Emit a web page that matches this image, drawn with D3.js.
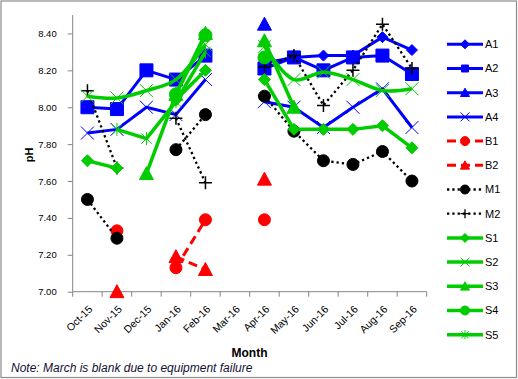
<!DOCTYPE html>
<html>
<head>
<meta charset="utf-8">
<style>
    body { margin: 0; background: white; }
    svg { display: block; font-family: 'Liberation Sans', Arial, sans-serif; }
    .axis path, .axis line { stroke: #868686; }
    .axis text { fill: #000; font-size: 9.5px; }
</style>
</head>
<body>
<svg width="518" height="379"></svg>
<script src="https://d3js.org/d3.v7.min.js"></script>
<script>
    // months on the x axis
    let months = ["Oct-15", "Nov-15", "Dec-15", "Jan-16", "Feb-16", "Mar-16",
        "Apr-16", "May-16", "Jun-16", "Jul-16", "Aug-16", "Sep-16"];
    let yTicks = [7.0, 7.2, 7.4, 7.6, 7.8, 8.0, 8.2, 8.4];

    // pH readings per site (null = no reading)
    let A1 = [null, null, null, null, null, null, 8.24, 8.27, 8.28, 8.28, 8.38, 8.31];
    let A2 = [8.00, 7.99, 8.20, 8.15, 8.28, null, 8.21, 8.27, 8.20, 8.27, 8.28, 8.18];
    let A3 = [null, null, null, null, null, null, 8.45, null, null, null, null, null];
    let A4 = [7.86, 7.88, 8.00, 7.96, 8.15, null, 8.03, 8.00, 7.89, 8.00, 8.10, 7.89];
    let B1 = [null, 7.33, null, 7.13, 7.39, null, 7.39, null, null, null, null, null];
    let B2 = [null, 7.00, null, 7.19, 7.12, null, 7.61, null, null, null, null, null];
    let M1 = [7.50, 7.29, null, 7.77, 7.96, null, 8.06, 7.87, 7.71, 7.69, 7.76, 7.60];
    let M2 = [8.09, 7.67, null, 7.94, 7.59, null, 8.22, 8.28, 8.01, 8.20, 8.45, 8.21];
    let S1 = [7.71, 7.67, null, 8.04, 8.20, null, 8.15, 7.88, 7.88, 7.88, 7.90, 7.78];
    let S2 = [8.06, 8.05, 8.09, 8.15, 8.34, null, 8.33, 8.15, 8.19, 8.15, 8.09, 8.10];
    let S3 = [null, null, 7.64, 8.07, 8.40, null, 8.36, 8.00, null, null, null, null];
    let S4 = [null, null, null, 8.07, 8.39, null, 8.27, null, null, null, null, null];
    let S5 = [null, 7.88, 7.83, 8.03, 8.30, null, null, null, null, null, null, null];

    let blue = "#0000ff", red = "#ff0000", green = "#00cc00", black = "#000000";

    let series = [
        {name: "A1", values: A1, color: blue, width: 3, dash: null, marker: "diamond", mSize: 5.5},
        {name: "A2", values: A2, color: blue, width: 3, dash: null, marker: "square", mSize: 6.5},
        {name: "A3", values: A3, color: blue, width: 3, dash: null, marker: "triangle", mSize: 7},
        {name: "A4", values: A4, color: blue, width: 3, dash: null, marker: "x", mSize: 6.5},
        {name: "B1", values: B1, color: red, width: 3, dash: "9,5", marker: "circle", mSize: 6},
        {name: "B2", values: B2, color: red, width: 3, dash: "9,5", marker: "triangle", mSize: 7},
        {name: "M1", values: M1, color: black, width: 2.3, dash: "2.3,3", marker: "circle", mSize: 6},
        {name: "M2", values: M2, color: black, width: 2.3, dash: "2.3,3", marker: "plus", mSize: 6.5},
        {name: "S1", values: S1, color: green, width: 3.5, dash: null, marker: "diamond", mSize: 6},
        {name: "S2", values: S2, color: green, width: 3.5, dash: null, marker: "x", mSize: 6.5, smooth: true},
        {name: "S3", values: S3, color: green, width: 3.5, dash: null, marker: "triangle", mSize: 7},
        {name: "S4", values: S4, color: green, width: 3.5, dash: null, marker: "circle", mSize: 6.5},
        {name: "S5", values: S5, color: green, width: 3.5, dash: null, marker: "star", mSize: 6.5}
    ];

    let svg = d3.select("svg");

    // outer chart border
    svg.append("rect")
        .attr("x", 1).attr("y", 1)
        .attr("width", 515.5).attr("height", 376.5)
        .attr("fill", "white")
        .attr("stroke", "#8c8c8c")
        .attr("stroke-width", 1.2);

    let x = d3.scaleBand().domain(months).range([72.7, 426.7]).padding(0);
    let y = d3.scaleLinear().domain([7, 8.5]).range([291.7, 15]);

    // y axis
    let yAxis = svg.append("g")
        .attr("class", "axis")
        .attr("transform", "translate(72.7,0)")
        .call(d3.axisLeft(y).tickValues(yTicks).tickFormat(d3.format(".2f")).tickSizeOuter(0).tickSize(5).tickPadding(11));
    yAxis.select(".domain").attr("d", "M0," + y(8.5) + "V" + y(7));

    // x axis, ticks on category boundaries
    let xAxis = svg.append("g")
        .attr("class", "axis")
        .attr("transform", "translate(0," + y(7) + ")");
    xAxis.append("path")
        .attr("d", "M" + x.range()[0] + ",0H" + x.range()[1])
        .attr("stroke", "#868686");
    let bounds = months.map(m => x(m)).concat([x.range()[1]]);
    xAxis.selectAll("line.tk")
        .data(bounds)
        .join("line")
        .attr("class", "tk")
        .attr("x1", d => d).attr("x2", d => d)
        .attr("y1", 0).attr("y2", 5);
    xAxis.selectAll("text")
        .data(months)
        .join("text")
        .attr("transform", d => "translate(" + (x(d) + x.bandwidth() / 2 + 3) + ",15.5) rotate(-45)")
        .attr("text-anchor", "end")
        .attr("dy", "0.35em")
        .style("font-size", "10.5px")
        .text(d => d);

    // series: line then markers, drawn in order
    function markerPath(type, r) {
        if (type === "diamond") return "M0," + (-r) + "L" + r + ",0L0," + r + "L" + (-r) + ",0Z";
        if (type === "square") return "M" + (-r) + "," + (-r) + "h" + (2 * r) + "v" + (2 * r) + "h" + (-2 * r) + "Z";
        if (type === "triangle") return "M0," + (-r) + "L" + r + "," + (r * 0.85) + "L" + (-r) + "," + (r * 0.85) + "Z";
        if (type === "circle") return "M" + (-r) + ",0A" + r + "," + r + " 0 1,0 " + r + ",0A" + r + "," + r + " 0 1,0 " + (-r) + ",0Z";
        if (type === "x") return "M" + (-r) + "," + (-r) + "L" + r + "," + r + "M" + r + "," + (-r) + "L" + (-r) + "," + r;
        if (type === "plus") return "M" + (-r) + ",0H" + r + "M0," + (-r) + "V" + r;
        if (type === "star") {
            let k = r * 0.8;
            return "M" + (-k) + "," + (-k) + "L" + k + "," + k + "M" + k + "," + (-k) + "L" + (-k) + "," + k + "M0," + (-r) + "V" + r;
        }
    }
    function isOpen(type) { return type === "x" || type === "plus" || type === "star"; }

    let cx = m => x(m) + x.bandwidth() / 2;

    series.forEach(s => {
        let pts = months.map((m, i) => ({m: m, v: s.values[i]}));
        let line = d3.line()
            .defined(d => d.v != null)
            .x(d => cx(d.m))
            .y(d => y(d.v))
            .curve(s.smooth ? d3.curveCatmullRom : d3.curveLinear);
        let g = svg.append("g");
        g.append("path")
            .attr("d", line(pts))
            .attr("fill", "none")
            .attr("stroke", s.color)
            .attr("stroke-width", s.width)
            .attr("stroke-dasharray", s.dash)
            .attr("stroke-linejoin", "round");
        g.selectAll("path.mk")
            .data(pts.filter(d => d.v != null))
            .join("path")
            .attr("class", "mk")
            .attr("transform", d => "translate(" + cx(d.m) + "," + y(d.v) + ")")
            .attr("d", markerPath(s.marker, s.mSize))
            .attr("fill", isOpen(s.marker) ? "none" : s.color)
            .attr("stroke", s.color)
            .attr("stroke-width", s.marker === "plus" ? 1.5 : 1);
    });

    // legend
    let legend = svg.append("g").attr("transform", "translate(447,44.3)");
    let item = legend.selectAll("g")
        .data(series)
        .join("g")
        .attr("transform", (d, i) => "translate(0," + (i * 24.2) + ")");
    item.append("line")
        .attr("x1", 0).attr("x2", 36)
        .attr("stroke", d => d.color)
        .attr("stroke-width", d => d.width)
        .attr("stroke-dasharray", d => d.dash);
    item.append("path")
        .attr("transform", "translate(18,0)")
        .attr("d", d => markerPath(d.marker, d.marker === "square" ? 3.5 : 4.5))
        .attr("fill", d => isOpen(d.marker) ? "none" : d.color)
        .attr("stroke", d => d.color)
        .attr("stroke-width", d => d.marker === "plus" ? 1.3 : 1);
    item.append("text")
        .attr("x", 38)
        .attr("dy", "0.35em")
        .attr("font-size", "11px")
        .text(d => d.name);

    // axis titles and note
    svg.append("text")
        .attr("transform", "translate(33,155) rotate(-90)")
        .attr("text-anchor", "middle")
        .attr("font-size", "11px")
        .attr("font-weight", "bold")
        .text("pH");
    svg.append("text")
        .attr("x", 249.5).attr("y", 357)
        .attr("text-anchor", "middle")
        .attr("font-size", "12px")
        .attr("font-weight", "bold")
        .text("Month");
    svg.append("text")
        .attr("x", 11).attr("y", 371.5)
        .attr("font-size", "12px")
        .attr("font-style", "italic")
        .attr("fill", "#111133")
        .text("Note:  March is blank due to equipment  failure");
</script>
</body>
</html>
